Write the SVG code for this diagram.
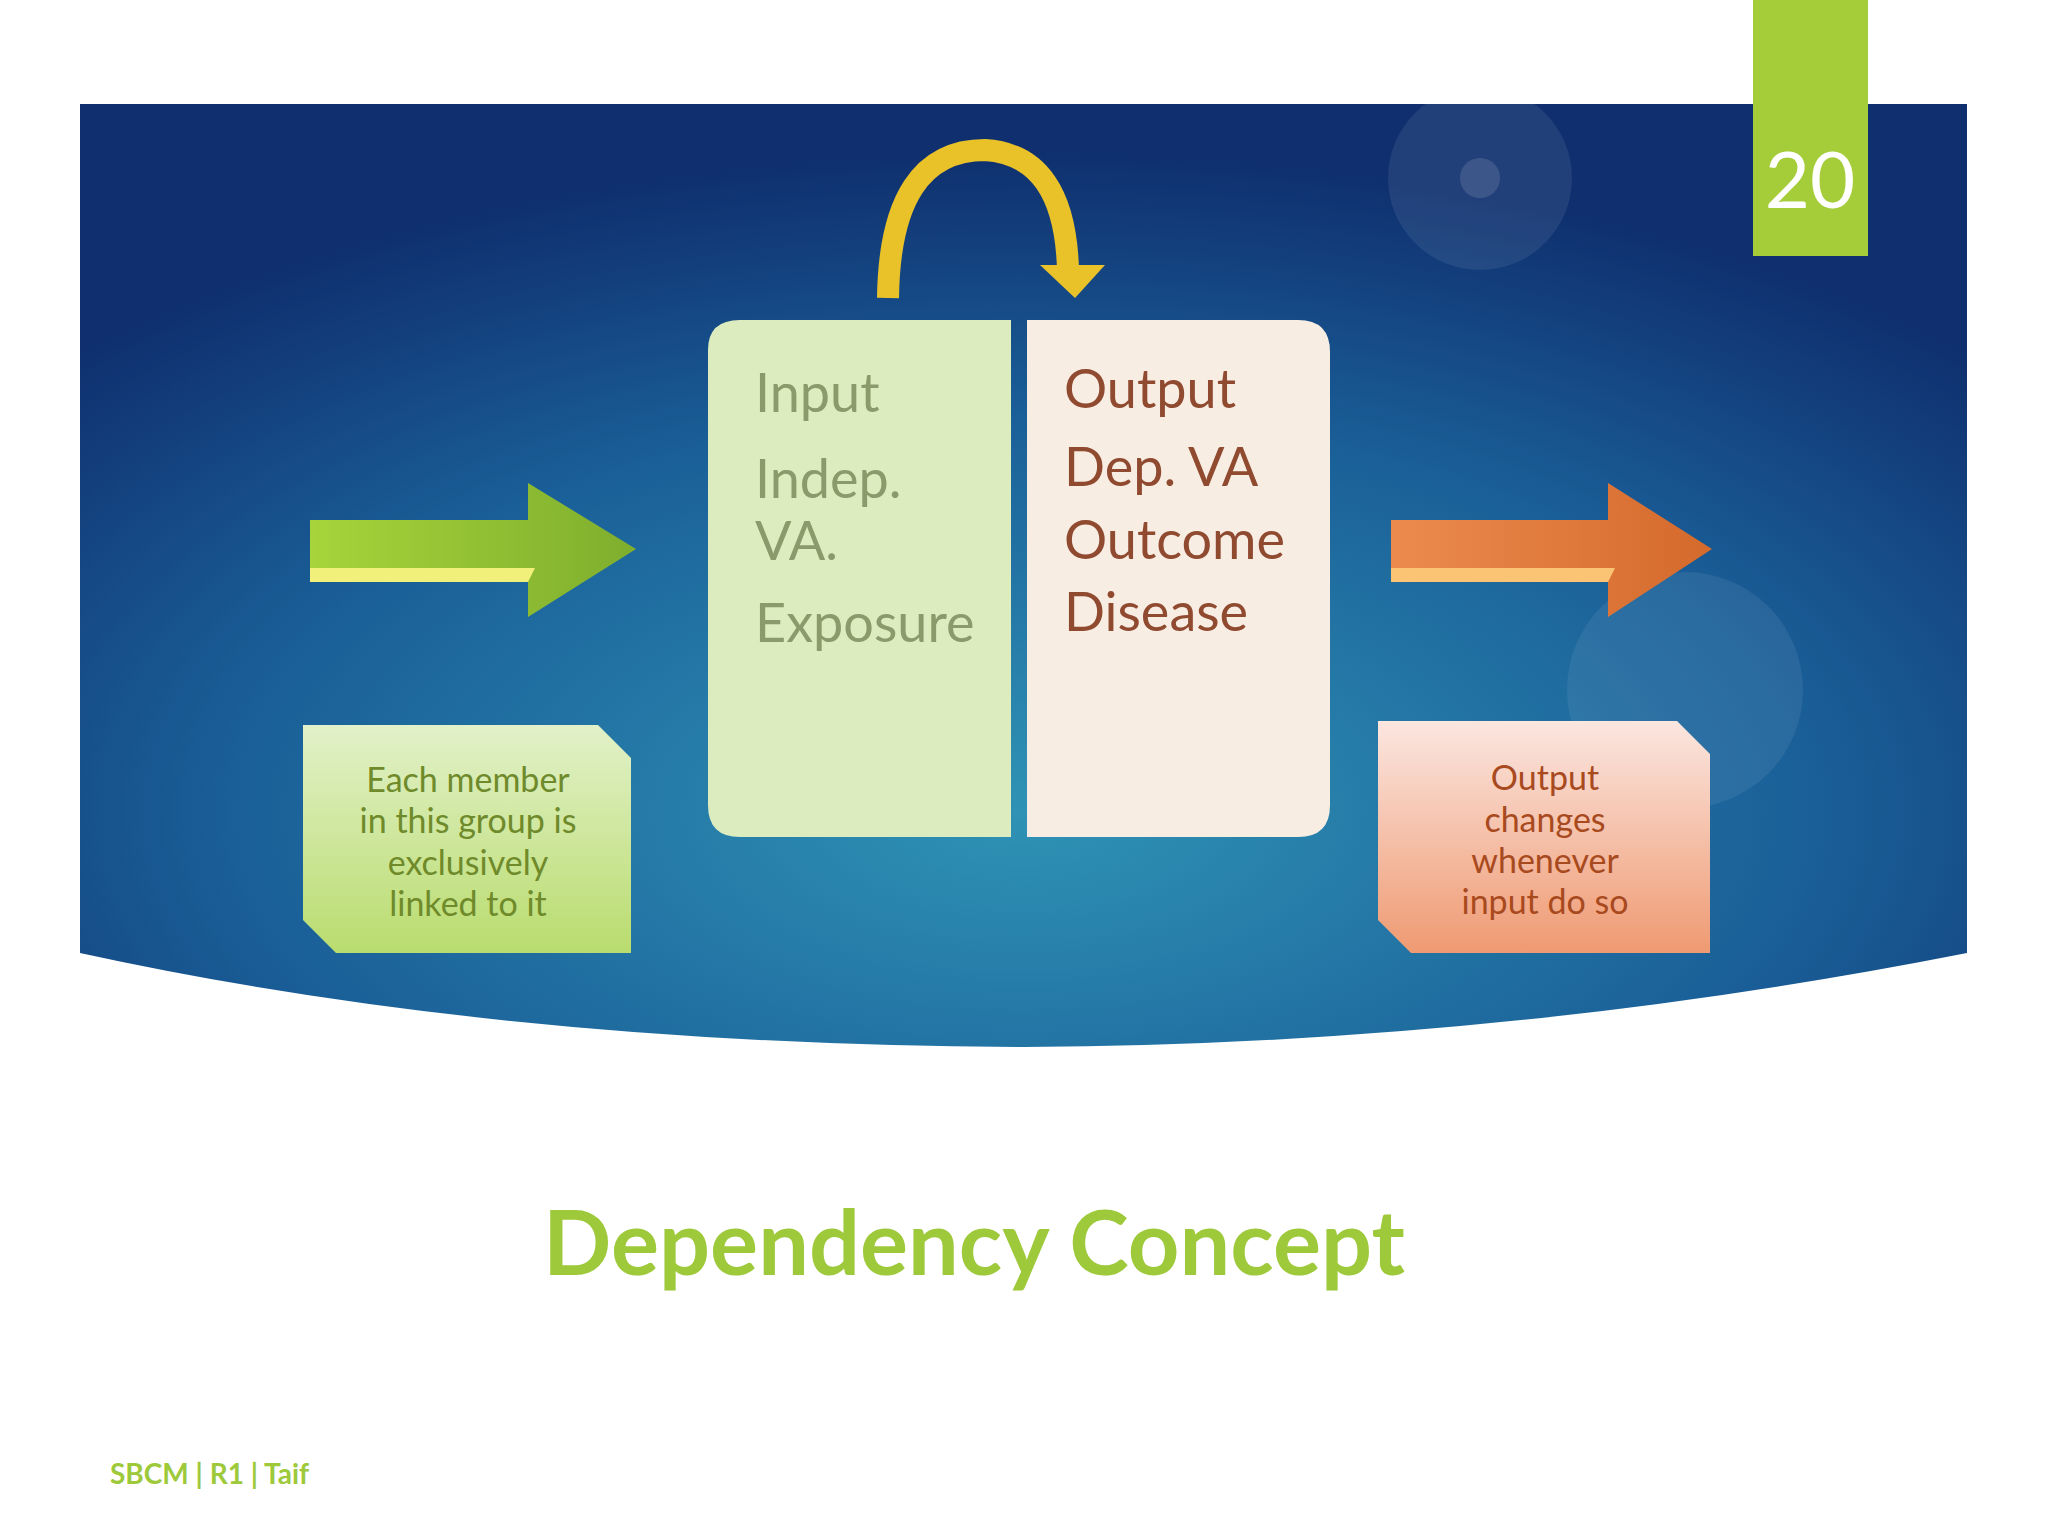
<svg xmlns="http://www.w3.org/2000/svg" width="2048" height="1536" viewBox="0 0 2048 1536">
<defs>
<radialGradient id="bg" cx="0.5" cy="0.75" r="0.7">
<stop offset="0" stop-color="#2f93b5"/><stop offset="0.6" stop-color="#1a5f98"/><stop offset="1" stop-color="#0f2f6e"/>
</radialGradient>
<linearGradient id="gbox" x1="0" y1="0" x2="0" y2="1"><stop offset="0" stop-color="#e2f1c9"/><stop offset="1" stop-color="#b9dc6e"/></linearGradient>
<linearGradient id="obox" x1="0" y1="0" x2="0" y2="1"><stop offset="0" stop-color="#fbe6e0"/><stop offset="1" stop-color="#ef9a72"/></linearGradient>
<linearGradient id="garr" x1="0" y1="0" x2="1" y2="0"><stop offset="0" stop-color="#a6d43a"/><stop offset="1" stop-color="#7fae2e"/></linearGradient>
<linearGradient id="oarr" x1="0" y1="0" x2="1" y2="0"><stop offset="0" stop-color="#ec8a4e"/><stop offset="1" stop-color="#d46a2c"/></linearGradient>
<style>
.big{font-family:"Lato","Liberation Sans",sans-serif;font-size:54px}
.note{font-family:"Lato","Liberation Sans",sans-serif;font-size:34px;text-anchor:middle}
</style>
</defs>
<rect width="2048" height="1536" fill="#fff"/>
<path d="M80 104 H1967 V953 Q1500 1045 1024 1047 Q500 1045 80 953 Z" fill="url(#bg)"/>
<circle cx="1480" cy="178" r="92" fill="#ffffff" opacity="0.08"/>
<circle cx="1480" cy="178" r="20" fill="#ffffff" opacity="0.12"/>
<circle cx="1685" cy="690" r="118" fill="#ffffff" opacity="0.07"/>
<g id="tab"><rect x="1753" y="0" width="115" height="256" fill="#a5cd39"/>
<text x="1810" y="208" font-family="Lato,'Liberation Sans',sans-serif" font-size="78" fill="#fff" text-anchor="middle">20</text></g>
<g id="connectors">
<path d="M888 298 Q890 150 985 150 Q1065 155 1068 270" fill="none" stroke="#e9c22a" stroke-width="22"/>
<path d="M1040 265 L1105 265 L1075 298 Z" fill="#e9c22a"/>
</g>
<g id="input"><path d="M708 350 Q708 320 740 320 H1011 V837 H740 Q708 837 708 805 Z" fill="#dcecbf"/>
<text class="big" fill="#8a9a6a"><tspan x="755" y="412">Input</tspan><tspan x="755" y="498">Indep.</tspan><tspan x="755" y="560">VA.</tspan><tspan x="755" y="642">Exposure</tspan></text></g>
<g id="output"><path d="M1027 320 H1298 Q1330 320 1330 352 V805 Q1330 837 1298 837 H1027 Z" fill="#f8ede3"/>
<text class="big" fill="#8f4a30"><tspan x="1064" y="408">Output</tspan><tspan x="1064" y="486">Dep. VA</tspan><tspan x="1064" y="559">Outcome</tspan><tspan x="1064" y="631">Disease</tspan></text></g>
<g id="garrow"><path d="M310 520 H528 V483 L636 549 L528 617 V582 H310 Z" fill="url(#garr)"/><path d="M310 568 H535 L528 582 H310 Z" fill="#f0f07a"/></g>
<g id="oarrow"><path d="M1391 520 H1608 V483 L1712 549 L1608 617 V582 H1391 Z" fill="url(#oarr)"/><path d="M1391 568 H1615 L1608 582 H1391 Z" fill="#fbc474"/></g>
<g id="note1"><path d="M303 725 H598 L631 758 V953 H336 L303 920 Z" fill="url(#gbox)"/>
<text class="note" fill="#6f8a2a"><tspan x="468" y="792">Each member</tspan><tspan x="468" y="833">in this group is</tspan><tspan x="468" y="875">exclusively</tspan><tspan x="468" y="916">linked to it</tspan></text></g>
<g id="note2"><path d="M1378 721 H1677 L1710 754 V953 H1411 L1378 920 Z" fill="url(#obox)"/>
<text class="note" fill="#a84a1e"><tspan x="1545" y="790">Output</tspan><tspan x="1545" y="832">changes</tspan><tspan x="1545" y="873">whenever</tspan><tspan x="1545" y="914">input do so</tspan></text></g>
<text x="974" y="1275" font-family="Lato,'Liberation Sans',sans-serif" font-weight="bold" font-size="90" fill="#9dc93a" text-anchor="middle">Dependency Concept</text>
<text x="110" y="1484" font-family="Lato,'Liberation Sans',sans-serif" font-weight="bold" font-size="28" fill="#9dc93a">SBCM | R1 | Taif</text>
</svg>
